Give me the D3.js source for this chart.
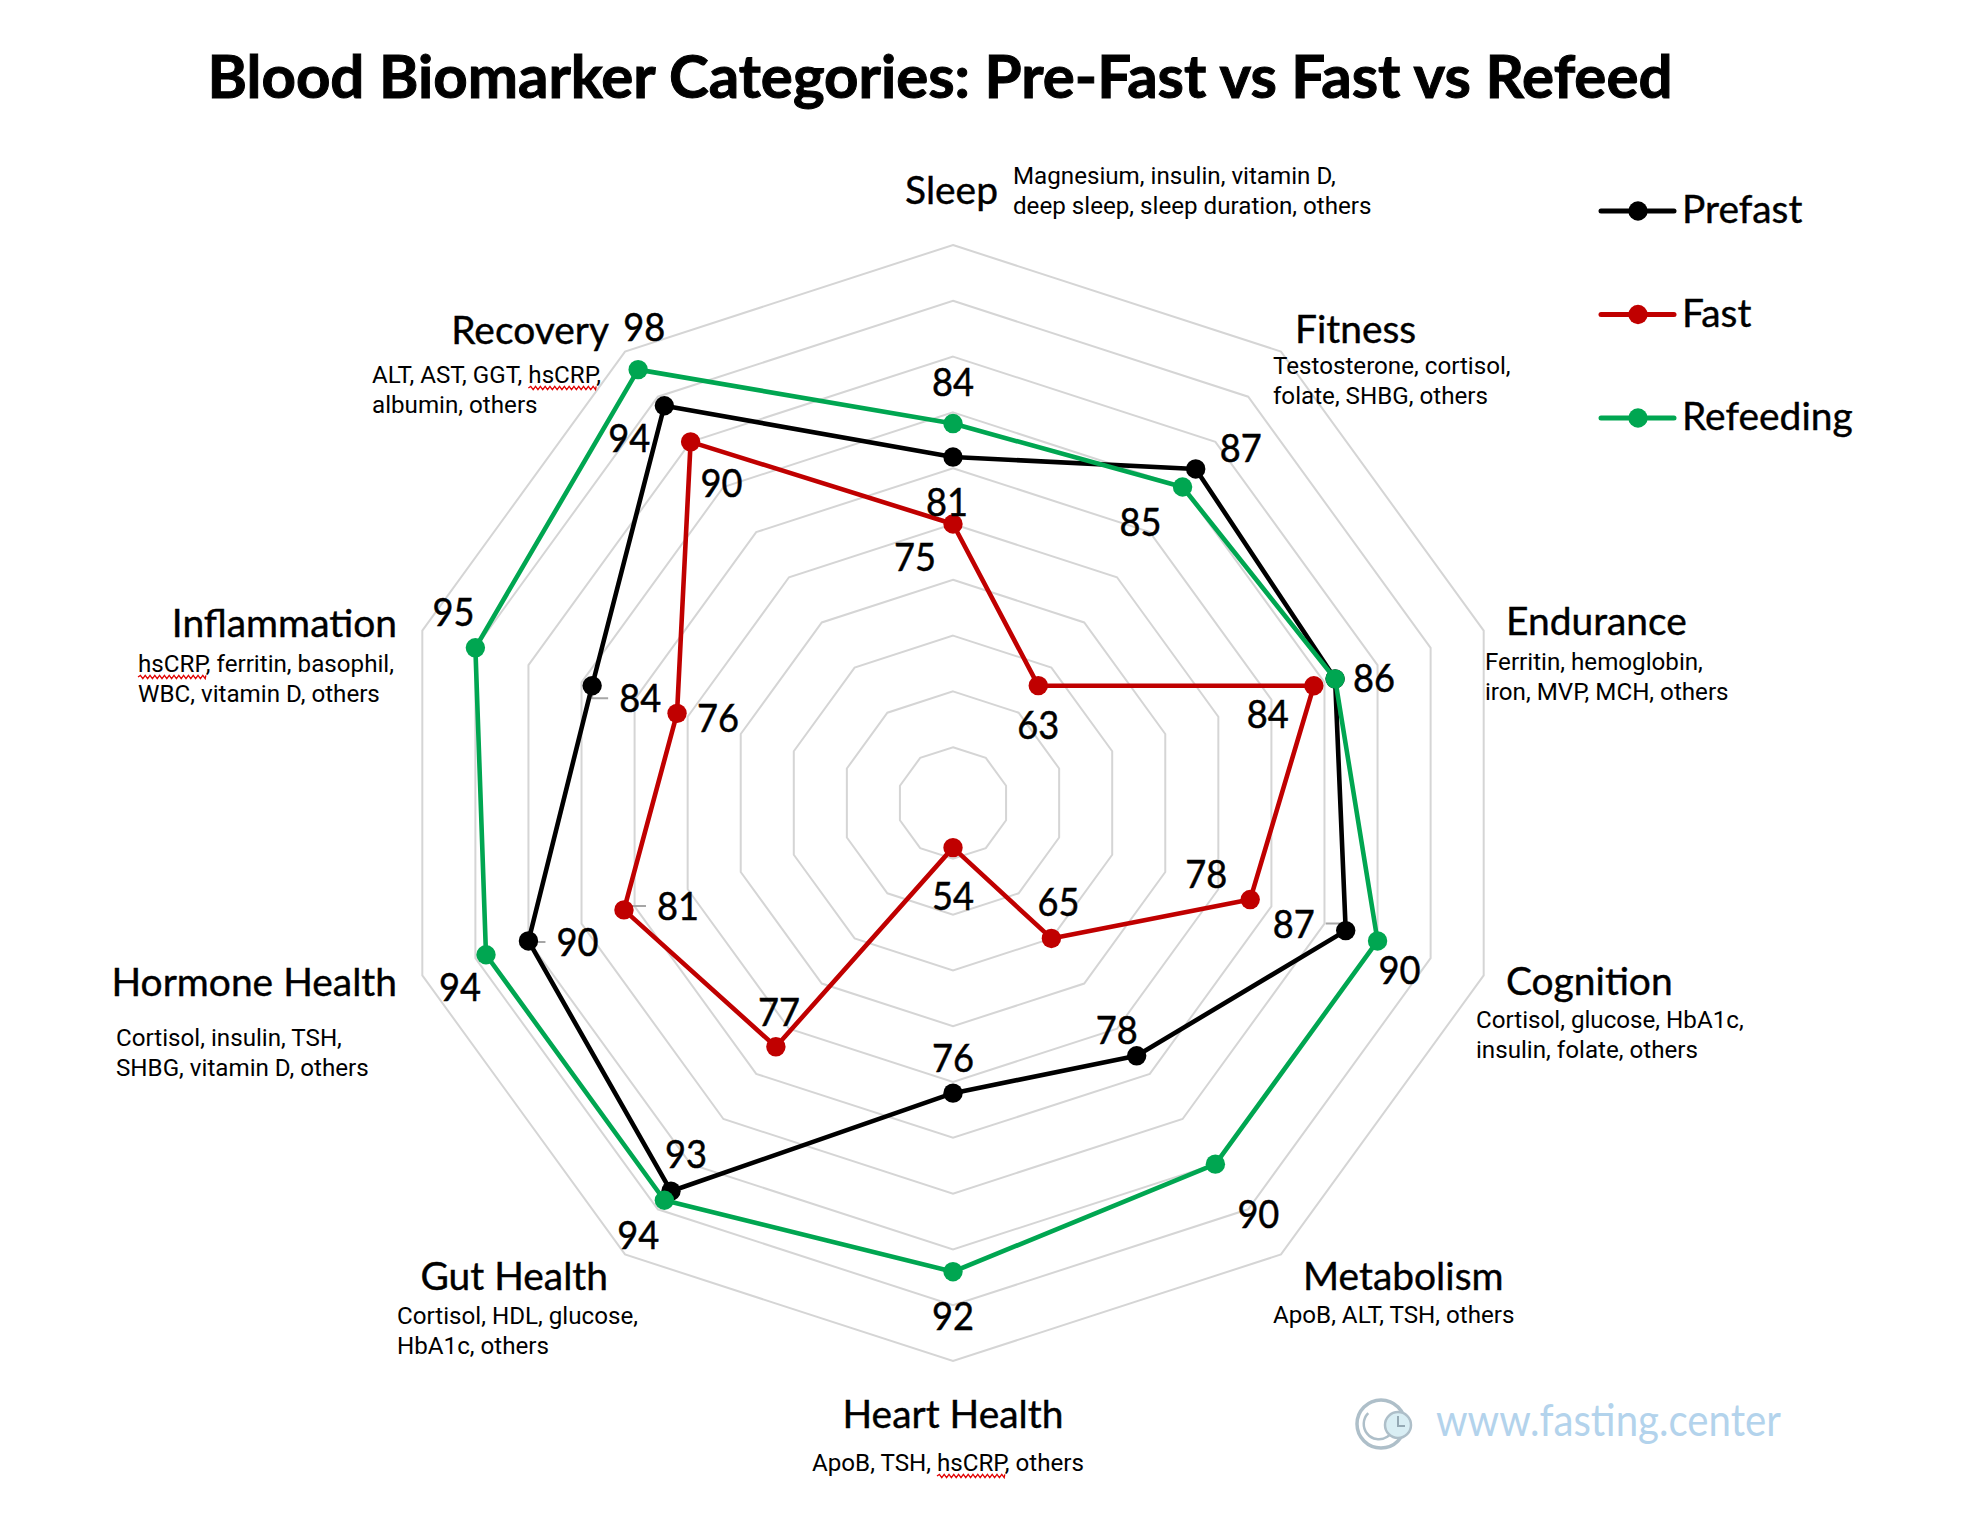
<!DOCTYPE html>
<html>
<head>
<meta charset="utf-8">
<script src="https://cdn.jsdelivr.net/npm/d3@7"></script>
<style>
html,body{margin:0;padding:0;background:#ffffff;}
svg{display:block;}
</style>
</head>
<body>
<svg id="chart" width="1980" height="1522"></svg>
<script>
// ---------------- DATA ----------------
const categories = ["Sleep","Fitness","Endurance","Cognition","Metabolism","Heart Health","Gut Health","Hormone Health","Inflammation","Recovery"];
const biomarkers = [
  ["Magnesium, insulin, vitamin D,","deep sleep, sleep duration, others"],
  ["Testosterone, cortisol,","folate, SHBG, others"],
  ["Ferritin, hemoglobin,","iron, MVP, MCH, others"],
  ["Cortisol, glucose, HbA1c,","insulin, folate, others"],
  ["ApoB, ALT, TSH, others"],
  ["ApoB, TSH, hsCRP, others"],
  ["Cortisol, HDL, glucose,","HbA1c, others"],
  ["Cortisol, insulin, TSH,","SHBG, vitamin D, others"],
  ["hsCRP, ferritin, basophil,","WBC, vitamin D, others"],
  ["ALT, AST, GGT, hsCRP,","albumin, others"]
];
const seriesNames = ["Prefast","Fast","Refeeding"];
const prefast   = [81,87,86,87,78,76,93,90,84,94];
const fast      = [75,63,84,78,65,54,77,81,76,90];
const refeeding = [84,85,86,90,90,92,94,94,95,98];
const gridTicks = [55,60,65,70,75,80,85,90,95,100];
const title = "Blood Biomarker Categories: Pre-Fast vs Fast vs Refeed";
const watermark = "www.fasting.center";

// ---------------- LAYOUT ----------------
const W = 1980, H = 1522;
const cx = 953, cy = 803, R = 558;
const colors = {Prefast:"#000000", Fast:"#c00000", Refeeding:"#00a651"};
// data label offsets (label centre relative to its point); null = no label
const labelOffsets = {
  Prefast:   [[-6,45],[45,-21],null,[-52,-7],[-20,-26],[0,-35],[15,-37],[49,1],[48,12.5],[-35,32]],
  Fast:      [[-38,33],[0,39],[-46,28],[-44,-26],[7,-36],[0,48],[3,-35],[54,-4],[41,5],[31,41]],
  Refeeding: [[0,-42],[-42,35],[39,-1],[22,29],[43,50],[0,44],[-26,35],[-26,32],[-22,-36],[6,-43]]
};
const leaders = {Prefast:[3,7,8], Fast:[7], Refeeding:[]};
// category label layout relative to the outer grid vertex
const catLayout = [
  {a:"end",   dx:45,    dy:-41,  sa:"start",  sdx:60,     sdy:-61},
  {a:"start", dx:14,    dy:-8.6, sa:"start",  sdx:-8,     sdy:22.4},
  {a:"start", dx:22.3,  dy:4.4,  sa:"start",  sdx:1.3,    sdy:39.4},
  {a:"start", dx:22.3,  dy:19.6, sa:"start",  sdx:-7.7,   sdy:52.6},
  {a:"start", dx:22,    dy:35.6, sa:"start",  sdx:-8,     sdy:68.6},
  {a:"middle",dx:0,     dy:67,   sa:"middle", sdx:-5,     sdy:110},
  {a:"end",   dx:-17,   dy:35.6, sa:"start",  sdx:-228,   sdy:69.6},
  {a:"end",   dx:-25.3, dy:20.6, sa:"start",  sdx:-306.3, sdy:70.6},
  {a:"end",   dx:-25.3, dy:6.4,  sa:"start",  sdx:-284.3, sdy:41.4},
  {a:"end",   dx:-16,   dy:-7.6, sa:"start",  sdx:-253,   sdy:31.4}
];

const FONT = "Lato, 'Open Sans', sans-serif";
const SUBFONT = "Roboto, 'Noto Sans', sans-serif";
const catSize = 38.5, numSize = 39, subSize = 23.5;

const svg = d3.select("#chart");
svg.append("rect").attr("width",W).attr("height",H).attr("fill","#fff");

// width calibration helper (emulates the narrower original face)
function natural(str, font, size, weight){
  const t = svg.append("text").attr("font-family",font).attr("font-size",size)
     .attr("font-weight",weight||400).text(str);
  const w = t.node().getComputedTextLength(); t.remove(); return w;
}
const kCat = 221 / natural("Heart Health", FONT, catSize);
const kNum = 42 / natural("92", FONT, numSize);
const kSub = 272 / natural("ApoB, TSH, hsCRP, others", SUBFONT, subSize);
function fit(sel, k){
  sel.each(function(){
    const w = this.getComputedTextLength();
    d3.select(this).attr("textLength", w*k).attr("lengthAdjust","spacingAndGlyphs");
  });
  return sel;
}

// ---------------- TITLE ----------------
svg.append("text").attr("x",940).attr("y",98).attr("text-anchor","middle")
  .attr("font-family",FONT).attr("font-weight",700).attr("font-size",59)
  .attr("textLength",1465).attr("lengthAdjust","spacingAndGlyphs")
  .attr("fill","#000").attr("stroke","#000").attr("stroke-width",1)
  .text(title);

// ---------------- SCALES ----------------
const r = d3.scaleLinear().domain([50,100]).range([0,R]);
const angle = d3.scaleLinear().domain([0,categories.length]).range([0,2*Math.PI]);
const pos = (i,v) => [r(v)*Math.sin(angle(i)), -r(v)*Math.cos(angle(i))];

const g = svg.append("g").attr("transform",`translate(${cx},${cy})`);

// grid decagons
g.selectAll("path.grid").data(gridTicks).join("path").attr("class","grid")
  .attr("d", t => d3.lineRadial().angle((d,i)=>angle(i)).radius(r(t)).curve(d3.curveLinearClosed)(categories))
  .attr("fill","none").attr("stroke","#d5d5d5").attr("stroke-width",2);

// ---------------- SERIES ----------------
const series = [
  {name:"Prefast", values:prefast},
  {name:"Fast", values:fast},
  {name:"Refeeding", values:refeeding}
];

// leader lines (under everything)
series.forEach(s=>{
  leaders[s.name].forEach(i=>{
    const [px,py] = pos(i, s.values[i]);
    const off = labelOffsets[s.name][i];
    const lx = px+off[0], ly = py+off[1];
    const halfW = natural(String(s.values[i]), FONT, numSize)*kNum/2;
    const edge = off[0] > 0 ? lx - halfW - 11 : lx + halfW + 11;
    g.append("path").attr("d", `M${edge},${ly}L${px},${ly}L${px},${py}`)
      .attr("fill","none").attr("stroke","#a6a6a6").attr("stroke-width",2);
  });
});

const radial = d3.lineRadial().angle((d,i)=>angle(i)).radius(d=>r(d)).curve(d3.curveLinearClosed);
series.forEach(s=>{
  g.append("path").attr("d", radial(s.values)).attr("fill","none")
    .attr("stroke", colors[s.name]).attr("stroke-width",4.6).attr("stroke-linejoin","round");
  g.selectAll(null).data(s.values).join("circle")
    .attr("cx",(d,i)=>pos(i,d)[0]).attr("cy",(d,i)=>pos(i,d)[1]).attr("r",9.7)
    .attr("fill", colors[s.name]);
});

// data labels
series.forEach(s=>{
  const lab = g.selectAll(null).data(s.values.map((v,i)=>({v,i,off:labelOffsets[s.name][i]})).filter(d=>d.off))
    .join("text")
    .attr("x", d=>pos(d.i,d.v)[0]+d.off[0])
    .attr("y", d=>pos(d.i,d.v)[1]+d.off[1]+0.358*numSize)
    .attr("text-anchor","middle").attr("font-family",FONT).attr("font-size",numSize)
    .attr("fill","#000").attr("stroke","#000").attr("stroke-width",0.5).text(d=>d.v);
  fit(lab, kNum);
});

// ---------------- CATEGORY LABELS ----------------
function squiggle(x0, x1, y){
  let d = `M${x0},${y}`; let up = true;
  for(let x=x0; x<x1; x+=2.4){ d += `L${Math.min(x+2.4,x1)},${y+(up?-1.6:1.6)}`; up=!up; }
  return d;
}
categories.forEach((c,i)=>{
  const [vx,vy] = pos(i,100);
  const L = catLayout[i];
  const t = g.append("text").attr("x",vx+L.dx).attr("y",vy+L.dy).attr("text-anchor",L.a)
    .attr("font-family",FONT).attr("font-size",catSize).attr("fill","#000")
    .attr("stroke","#000").attr("stroke-width",0.4).text(c);
  fit(t, kCat);
  biomarkers[i].forEach((line,j)=>{
    const sx = vx+L.sdx, sy = vy+L.sdy + j*30;
    const st = g.append("text").attr("x",sx).attr("y",sy).attr("text-anchor",L.sa)
      .attr("font-family",SUBFONT).attr("font-size",subSize).attr("fill","#000").text(line);
    const node = st.node();
    const total = node.getComputedTextLength();
    const idx = line.indexOf("hsCRP");
    let wx0=null, wx1=null;
    if(idx>=0){
      const pre = idx>0 ? node.getSubStringLength(0,idx) : 0;
      const ww = node.getSubStringLength(idx,5);
      const left = L.sa==="middle" ? sx - total*kSub/2 : sx;
      wx0 = left + pre*kSub; wx1 = wx0 + ww*kSub;
    }
    fit(st, kSub);
    if(wx0!==null){
      g.append("path").attr("d", squiggle(wx0, wx1, sy+5)).attr("fill","none")
        .attr("stroke","#e00000").attr("stroke-width",1.3);
    }
  });
});

// ---------------- LEGEND ----------------
const leg = svg.append("g");
seriesNames.forEach((n,i)=>{
  const y = 211 + i*103.5;
  leg.append("line").attr("x1",1601).attr("x2",1674).attr("y1",y).attr("y2",y)
    .attr("stroke",colors[n]).attr("stroke-width",5).attr("stroke-linecap","round");
  leg.append("circle").attr("cx",1638).attr("cy",y).attr("r",9.7).attr("fill",colors[n]);
  const t = leg.append("text").attr("x",1682).attr("y",y+12).attr("font-family",FONT)
    .attr("font-size",catSize).attr("fill","#000").attr("stroke","#000").attr("stroke-width",0.4).text(n);
  fit(t, kCat);
});

// ---------------- WATERMARK ----------------
const wm = svg.append("g");
wm.append("circle").attr("cx",1381).attr("cy",1424).attr("r",24).attr("fill","none")
  .attr("stroke","#aebfc9").attr("stroke-width",3.5);
wm.append("path").attr("d", d3.arc()({innerRadius:14, outerRadius:16.5, startAngle:0.35*Math.PI, endAngle:1.75*Math.PI}))
  .attr("transform","translate(1379,1424)").attr("fill","#aebfc9");
wm.append("circle").attr("cx",1398).attr("cy",1425).attr("r",13).attr("fill","#d9eef4")
  .attr("stroke","#aebfc9").attr("stroke-width",2.5);
wm.append("path").attr("d","M1398,1416L1398,1426L1405,1426").attr("fill","none")
  .attr("stroke","#95a9b4").attr("stroke-width",2);
wm.append("text").attr("x",1436).attr("y",1436).attr("font-family",FONT).attr("font-size",44)
  .attr("textLength",345).attr("lengthAdjust","spacingAndGlyphs")
  .attr("fill","#b3d3ec").text(watermark);
</script>
</body>
</html>
